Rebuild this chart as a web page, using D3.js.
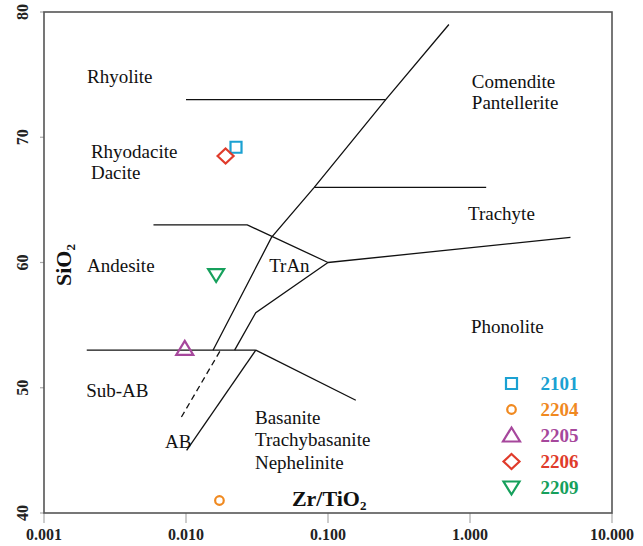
<!DOCTYPE html>
<meta charset="utf-8">
<head>
  <title>Zr/TiO2 - SiO2</title>
  <script src="https://d3js.org/d3.v7.min.js"></script>
  <style>
    body { margin: 0; background: #fff; }
    svg { font-family: "Liberation Serif", "Times New Roman", serif; }
    .frame { fill: none; stroke: #555; stroke-width: 1.6px; }
    .bound { fill: none; stroke: #111; stroke-width: 1.3px; }
    .dash { stroke-dasharray: 6,4; }
    .field { font-size: 19px; fill: #111; }
    .tick-label { font-size: 16px; font-weight: bold; fill: #222; }
    .tick-mark { stroke: #aaa; stroke-width: 1.2px; }
    .axis-title { font-size: 22px; font-weight: bold; fill: #111; }
    .legend text { font-size: 19px; font-weight: bold; }
  </style>
</head>
<body>
<script>

// field boundaries, [Zr/TiO2, SiO2]
var mainDivide = [[0.0155, 53], [0.040, 62], [0.080, 66], [0.255, 73], [0.71, 79]];
var rhyoliteLine = [[0.010, 73], [0.255, 73]];
var trachyteTop = [[0.080, 66], [1.3, 66]];
var andesiteTop = [[0.0059, 63], [0.027, 63], [0.100, 60]];
var phonoliteTop = [[0.100, 60], [5.1, 62]];
var tranBase = [[0.100, 60], [0.031, 56], [0.022, 53]];
var subABTop = [[0.0020, 53], [0.031, 53]];
var basaniteTop = [[0.031, 53], [0.157, 49]];
var abLine = [[0.031, 53], [0.0101, 45]];
var abDashed = [[0.0173, 52.9], [0.0090, 47.4]];

var solidLines = [mainDivide, rhyoliteLine, trachyteTop, andesiteTop, phonoliteTop,
                  tranBase, subABTop, basaniteTop, abLine];

// field names, anchored at [Zr/TiO2, SiO2] of first baseline
var fieldNames = [
  {lines: ["Rhyolite"], at: [0.00201, 74.36]},
  {lines: ["Rhyodacite", "Dacite"], at: [0.00214, 68.32]},
  {lines: ["Andesite"], at: [0.00201, 59.28]},
  {lines: ["Sub-AB"], at: [0.00198, 49.28]},
  {lines: ["AB"], at: [0.00711, 45.17]},
  {lines: ["TrAn"], at: [0.0385, 59.27]},
  {lines: ["Comendite", "Pantellerite"], at: [1.03, 73.91]},
  {lines: ["Trachyte"], at: [0.968, 63.39]},
  {lines: ["Phonolite"], at: [1.016, 54.35]},
  {lines: ["Basanite", "Trachybasanite", "Nephelinite"], at: [0.0306, 47.11]}
];

// samples
var sampleIds = ["2101", "2204", "2205", "2206", "2209"];
var sampleZrTi = [0.0225, 0.0172, 0.0098, 0.0190, 0.0163];
var sampleSiO2 = [69.2, 41.0, 53.1, 68.5, 59.0];
var sampleShape = ["square", "circle", "triangle", "diamond", "triangleDown"];
var sampleColor = ["#1ba1d2", "#f0891f", "#a6479c", "#e03b2b", "#16a05c"];

var xTicks = [0.001, 0.01, 0.1, 1, 10];
var xTickLabels = ["0.001", "0.010", "0.100", "1.000", "10.000"];
var yTicks = [40, 50, 60, 70, 80];

var width = 643, height = 546;
var margin = {top: 12, right: 31, bottom: 33, left: 44};

var svg = d3.select("body").append("svg")
    .attr("width", width)
    .attr("height", height);

var x = d3.scaleLog().domain([0.001, 10]).range([margin.left, width - margin.right]);
var y = d3.scaleLinear().domain([40, 80]).range([height - margin.bottom, margin.top]);

// ticks
svg.selectAll("line.xt").data(xTicks).enter().append("line")
    .attr("class", "tick-mark")
    .attr("x1", function(d) { return x(d); }).attr("x2", function(d) { return x(d); })
    .attr("y1", y(40)).attr("y2", y(40) + 10);

svg.selectAll("line.yt").data(yTicks).enter().append("line")
    .attr("class", "tick-mark")
    .attr("x1", x(0.001) - 4).attr("x2", x(0.001))
    .attr("y1", function(d) { return y(d); }).attr("y2", function(d) { return y(d); });

svg.selectAll("text.xl").data(xTicks).enter().append("text")
    .attr("class", "tick-label")
    .attr("x", function(d) { return x(d); })
    .attr("y", y(40) + 27)
    .attr("text-anchor", "middle")
    .text(function(d, i) { return xTickLabels[i]; });

svg.selectAll("text.yl").data(yTicks).enter().append("text")
    .attr("class", "tick-label")
    .attr("transform", function(d) { return "translate(" + (x(0.001) - 16) + "," + y(d) + ") rotate(-90)"; })
    .attr("text-anchor", "middle")
    .text(function(d) { return d; });

// frame
svg.append("rect")
    .attr("class", "frame")
    .attr("x", x(0.001)).attr("y", y(80))
    .attr("width", x(10) - x(0.001))
    .attr("height", y(40) - y(80));

var line = d3.line()
    .x(function(d) { return x(d[0]); })
    .y(function(d) { return y(d[1]); });

svg.selectAll("path.bound").data(solidLines).enter().append("path")
    .attr("class", "bound")
    .attr("d", line);

svg.append("path")
    .attr("class", "bound dash")
    .attr("d", line(abDashed));

// field names
fieldNames.forEach(function(f) {
  var t = svg.append("text")
      .attr("class", "field")
      .attr("x", x(f.at[0]))
      .attr("y", y(f.at[1]));
  f.lines.forEach(function(s, i) {
    t.append("tspan")
        .attr("x", x(f.at[0]))
        .attr("dy", i == 0 ? 0 : (f.lines.length > 2 ? 22.5 : 20.8))
        .text(s);
  });
});

// axis titles
var xt = svg.append("text")
    .attr("class", "axis-title")
    .attr("x", x(0.0557))
    .attr("y", y(40.58));
xt.append("tspan").text("Zr/TiO");
xt.append("tspan").attr("dy", 4).style("font-size", "13px").text("2");

var yt = svg.append("text")
    .attr("class", "axis-title")
    .attr("transform", "translate(71," + y(59.8) + ") rotate(-90)")
    .attr("text-anchor", "middle");
yt.append("tspan").text("SiO");
yt.append("tspan").attr("dy", 4).style("font-size", "13px").text("2");

function shapePath(shape, cx, cy) {
  if (shape == "square") {
    var s = 5.5;
    return "M" + (cx - s) + "," + (cy - s) + "h" + 2 * s + "v" + 2 * s + "h" + -2 * s + "Z";
  }
  if (shape == "circle") {
    var r = 4.3;
    return "M" + (cx + r) + "," + cy + "A" + r + "," + r + " 0 1,1 " + (cx - r) + "," + cy +
           "A" + r + "," + r + " 0 1,1 " + (cx + r) + "," + cy + "Z";
  }
  if (shape == "triangle") {
    return "M" + cx + "," + (cy - 8) + "L" + (cx + 8.5) + "," + (cy + 6) + "L" + (cx - 8.5) + "," + (cy + 6) + "Z";
  }
  if (shape == "diamond") {
    return "M" + cx + "," + (cy - 7.5) + "L" + (cx + 8) + "," + cy + "L" + cx + "," + (cy + 7.5) + "L" + (cx - 8) + "," + cy + "Z";
  }
  return "M" + (cx - 8) + "," + (cy - 6) + "L" + (cx + 8) + "," + (cy - 6) + "L" + cx + "," + (cy + 7) + "Z";
}

// sample points
svg.selectAll("path.pt").data(sampleIds).enter().append("path")
    .attr("class", "pt")
    .attr("fill", "none")
    .attr("stroke-width", 2.2)
    .attr("stroke", function(d, i) { return sampleColor[i]; })
    .attr("d", function(d, i) { return shapePath(sampleShape[i], x(sampleZrTi[i]), y(sampleSiO2[i])); });

// legend
var legend = svg.append("g").attr("class", "legend");
sampleIds.forEach(function(id, i) {
  var ly = 383.5 + i * 26;
  legend.append("path")
      .attr("fill", "none")
      .attr("stroke-width", 2.2)
      .attr("stroke", sampleColor[i])
      .attr("d", shapePath(sampleShape[i], 511.5, ly));
  legend.append("text")
      .attr("x", 540.5)
      .attr("y", ly + 6.5)
      .attr("fill", sampleColor[i])
      .text(id);
});

</script>
</body>
